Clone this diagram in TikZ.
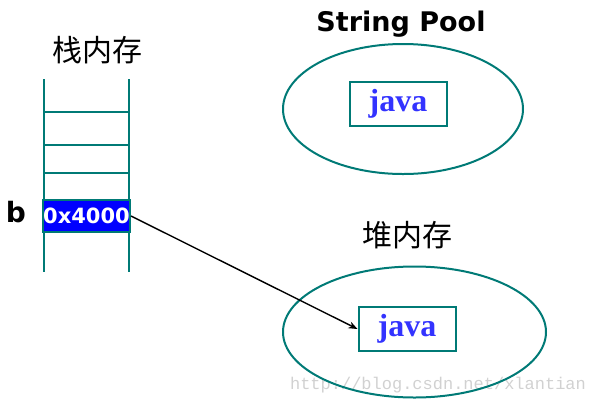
\documentclass[tikz,border=0pt]{standalone}
\usepackage{fontspec}
\setmainfont{DejaVu Sans}
\newfontfamily\cjkfont{Noto Sans CJK SC}
\newfontfamily\seriffont{Liberation Serif}
\newfontfamily\monofont{Liberation Mono}
\usetikzlibrary{arrows.meta,shapes.geometric}
\definecolor{teal1}{RGB}{0,122,118}
\definecolor{javablue}{RGB}{51,51,255}
\begin{document}
\begin{tikzpicture}[x=1pt,y=-1pt,
  tealline/.style={draw=teal1,line width=2pt},
  javabox/.style={tealline,minimum width=97pt,minimum height=44pt,inner sep=0pt,
    font=\seriffont\bfseries\fontsize{32}{32}\selectfont,text=javablue},
  title/.style={font=\cjkfont\fontsize{30}{30}\selectfont,inner sep=0pt}]
\useasboundingbox (0,0) rectangle (594,405);
% watermark
\node[font=\monofont\fontsize{17}{17}\selectfont,text=black!18,inner sep=0pt] (wm) at (438,385) {http://blog.csdn.net/xlantian};
% stack
\node[title] (stacktitle) at (97,50) {栈内存};
\coordinate (sl1) at (44,79); \coordinate (sl2) at (44,272);
\coordinate (sr1) at (129,79); \coordinate (sr2) at (129,272);
\draw[tealline] (sl1) -- (sl2);
\draw[tealline] (sr1) -- (sr2);
\foreach \yy/\nm in {112/h1,145/h2,173/h3}{
  \coordinate (\nm l) at (44,\yy); \coordinate (\nm r) at (129,\yy);
  \draw[tealline] (\nm l) -- (\nm r);
}
\node[draw=teal1,line width=2pt,fill=blue,minimum width=87pt,minimum height=32pt,inner sep=0pt,
  text=white,font=\bfseries\fontsize{21}{21}\selectfont] (addr) at (86.5,216) {0x4000};
\node[font=\bfseries\fontsize{28}{28}\selectfont,inner sep=0pt] (b) at (16,212) {b};
% string pool
\node[font=\bfseries\fontsize{27}{27}\selectfont,inner sep=0pt] (pooltitle) at (401,24) {String Pool};
\node[tealline,ellipse,minimum width=240pt,minimum height=130pt,inner sep=0pt] (pool) at (403,109) {};
\node[javabox] (java1) at (398,104) {java};
% heap
\node[title] (heaptitle) at (407,235) {堆内存};
\node[tealline,ellipse,minimum width=263pt,minimum height=131pt,inner sep=0pt] (heap) at (414.5,332) {};
\node[javabox] (java2) at (407,329) {java};
% arrow
\draw[line width=1.4pt,-{Stealth[length=9pt,width=7pt]}] (addr.east) -- (java2.west);
\end{tikzpicture}
\end{document}
